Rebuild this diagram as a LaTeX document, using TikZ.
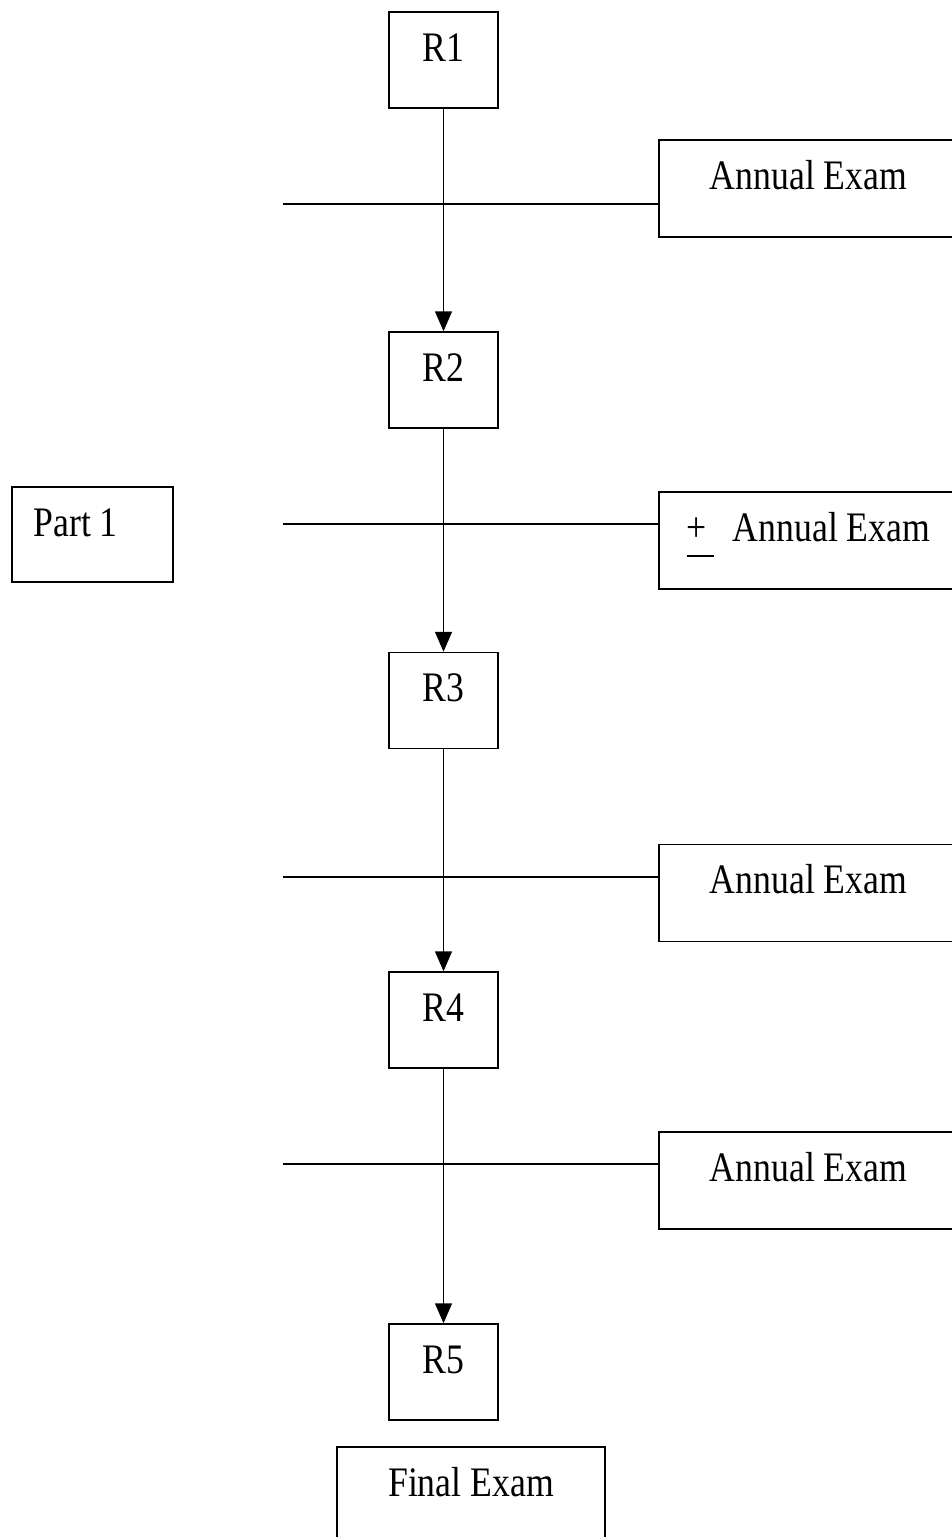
\documentclass[tikz,border=0pt]{standalone}
\usepackage{fontspec}
\setmainfont{Liberation Serif}[FakeStretch=0.85]
\usetikzlibrary{arrows.meta}
\begin{document}
\begin{tikzpicture}[x=1pt,y=-1pt,
  rbox/.style={draw, line width=1.5pt, inner sep=0pt, minimum width=109pt, minimum height=96pt},
  abox/.style={draw, line width=1.5pt, inner sep=0pt, minimum width=299pt, minimum height=97pt},
  pbox/.style={draw, line width=1.5pt, inner sep=0pt, minimum width=161pt, minimum height=95pt},
  fbox/.style={draw, line width=1.5pt, inner sep=0pt, minimum width=268pt, minimum height=100pt},
  txt/.style={font=\fontsize{42}{48}\selectfont, inner sep=0pt, anchor=base},
  flow/.style={line width=1.5pt, -{Triangle[width=17pt,length=20pt]}},
  tie/.style={line width=1.5pt}]
\useasboundingbox[fill=white] (0,0) rectangle (951,1537);

% R boxes
\node[rbox] (r1) at (443.5,60) {};
\node[rbox] (r2) at (443.5,380) {};
\node[rbox] (r3) at (443.5,700.5) {};
\node[rbox] (r4) at (443.5,1020) {};
\node[rbox] (r5) at (443.5,1372) {};
\node[txt] (t1) at ([yshift=-50pt]r1.north) {R1};
\node[txt] (t2) at ([yshift=-50pt]r2.north) {R2};
\node[txt] (t3) at ([yshift=-50pt]r3.north) {R3};
\node[txt] (t4) at ([yshift=-50pt]r4.north) {R4};
\node[txt] (t5) at ([yshift=-50pt]r5.north) {R5};

% Annual exam boxes
\node[abox] (a1) at (808.5,188.5) {};
\node[abox] (a2) at (808.5,540.5) {};
\node[abox] (a3) at (808.5,893) {};
\node[abox] (a4) at (808.5,1180.5) {};
\node[txt] (ta1) at ([yshift=-50pt]a1.north) {Annual Exam};
\node[txt] (ta2) at ([yshift=-50pt]a2.north) {\rlap{\rule[-16pt]{27pt}{1.8pt}}+\hspace{26pt}Annual Exam};
\node[txt] (ta3) at ([yshift=-50pt]a3.north) {Annual Exam};
\node[txt] (ta4) at ([yshift=-50pt]a4.north) {Annual Exam};

% Part 1
\node[pbox] (p1) at (92.5,534.5) {};
\node[txt, anchor=base west] (tp1) at ([xshift=22pt,yshift=-50pt]p1.north west) {Part 1};

% Final exam
\node[fbox] (fe) at (471,1497) {};
\node[txt] (tfe) at ([yshift=-50pt]fe.north) {Final Exam};

% vertical arrows
\draw[flow] (r1.south) -- (r2.north);
\draw[flow] (r2.south) -- (r3.north);
\draw[flow] (r3.south) -- (r4.north);
\draw[flow] (r4.south) -- (r5.north);

% horizontal lines
\coordinate (h1) at (283,204);
\coordinate (h2) at (283,524);
\coordinate (h3) at (283,877);
\coordinate (h4) at (283,1164);
\draw[tie] (h1) -- (h1 -| a1.west);
\draw[tie] (h2) -- (h2 -| a2.west);
\draw[tie] (h3) -- (h3 -| a3.west);
\draw[tie] (h4) -- (h4 -| a4.west);
\end{tikzpicture}
\end{document}
